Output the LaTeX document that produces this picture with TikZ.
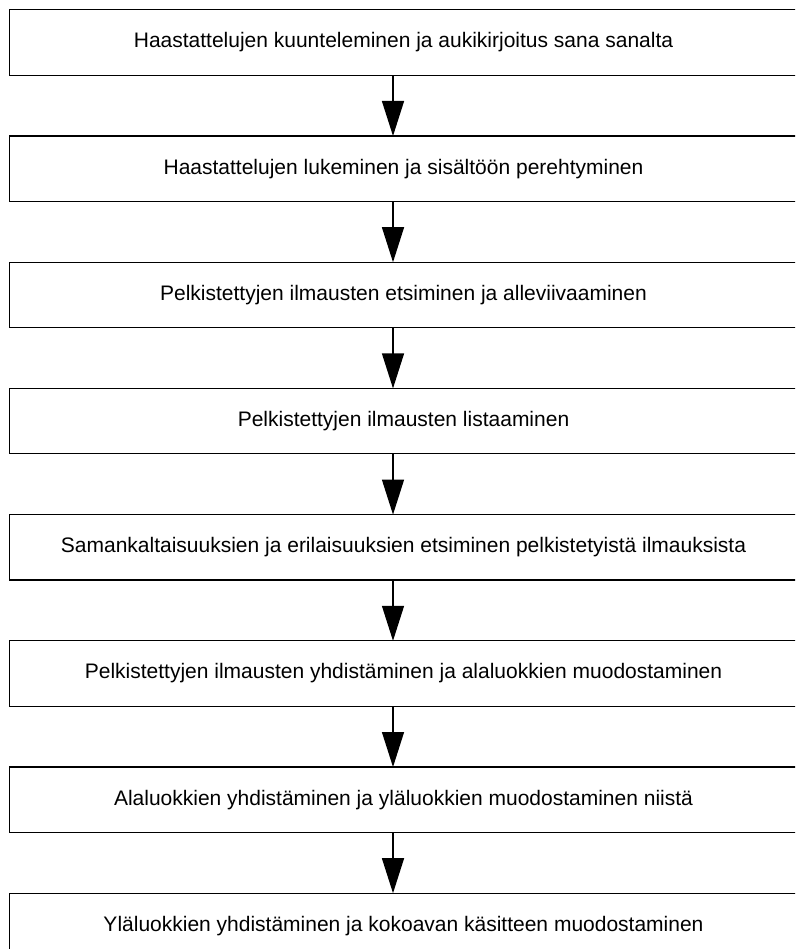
\documentclass[tikz,border=0pt]{standalone}
\usepackage{fontspec}
\setmainfont{Liberation Sans}
\usetikzlibrary{arrows.meta}
\begin{document}
\begin{tikzpicture}[x=1pt,y=-1pt,
  stepbox/.style={minimum width=787pt, minimum height=65pt,
    inner sep=0pt, font=\fontsize{21}{25}\selectfont, text=black},
  boxline/.style={draw=black, line width=1.3pt},
  flowarrow/.style={line width=1.3pt, -{Triangle[length=35pt,width=22pt]}}]
\useasboundingbox (0,0) rectangle (795,949);
\clip (0,0) rectangle (795,949);
\node[stepbox] (b1) at (403.5,42.5) {Haastattelujen kuunteleminen ja aukikirjoitus sana sanalta};
\node[stepbox] (b2) at (403.5,168.7) {Haastattelujen lukeminen ja sisältöön perehtyminen};
\node[stepbox] (b3) at (403.5,294.9) {Pelkistettyjen ilmausten etsiminen ja alleviivaaminen};
\node[stepbox] (b4) at (403.5,421.1) {Pelkistettyjen ilmausten listaaminen};
\node[stepbox] (b5) at (403.5,547.3) {Samankaltaisuuksien ja erilaisuuksien etsiminen pelkistetyistä ilmauksista};
\node[stepbox] (b6) at (403.5,673.5) {Pelkistettyjen ilmausten yhdistäminen ja alaluokkien muodostaminen};
\node[stepbox] (b7) at (403.5,799.7) {Alaluokkien yhdistäminen ja yläluokkien muodostaminen niistä};
\node[stepbox] (b8) at (403.5,925.9) {Yläluokkien yhdistäminen ja kokoavan käsitteen muodostaminen};
\foreach \b in {b1,b2,b3,b4,b5,b6,b7,b8}
  \draw[boxline] (\b.north west) rectangle ([xshift=10pt]\b.south east);
\foreach \a/\b in {b1/b2,b2/b3,b3/b4,b4/b5,b5/b6,b6/b7,b7/b8}
  \draw[flowarrow] ([xshift=-10.5pt]\a.south) -- ([xshift=-10.5pt]\b.north);
\end{tikzpicture}
\end{document}
